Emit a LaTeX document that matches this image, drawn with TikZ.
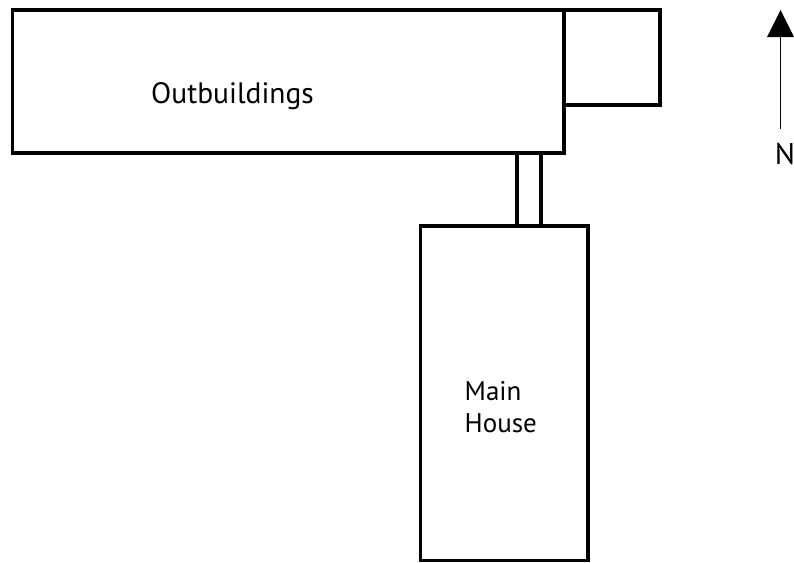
\documentclass[tikz,border=0pt]{standalone}
\usepackage{fontspec}
\setmainfont{PT Sans}
\begin{document}
\begin{tikzpicture}[x=1pt,y=-1pt,
  bld/.style={draw=black,line width=3.6pt,fill=none},
  lbl/.style={font=\fontsize{27}{32}\selectfont,text=black,inner sep=0pt,align=left}]
\useasboundingbox (0,0) rectangle (794,562);
\fill[white] (0,0) rectangle (794,562);
\draw[bld] (517,154) -- (517,225);
\draw[bld] (541,154) -- (541,225);
\draw[bld] (564,10) rectangle (660,105);
\draw[bld] (12.5,10) rectangle (564,153);
\draw[bld] (420.5,226) rectangle (588,560.5);
\node[lbl,font=\fontsize{29.5}{32}\selectfont] (out) at (232.5,96) {Outbuildings};
\node[lbl,anchor=west] (main) at (464.5,407) {Main\\House};
\node[lbl,font=\fontsize{30}{32}\selectfont] (n) at (785,154) {N};
\coordinate (tail) at (780.5,129);
\coordinate (tip) at (780.5,10);
\draw[line width=1.6pt] (tail) -- (780.5,35);
\fill[black] (tip) -- (794,37) -- (767,37) -- cycle;
\end{tikzpicture}
\end{document}
